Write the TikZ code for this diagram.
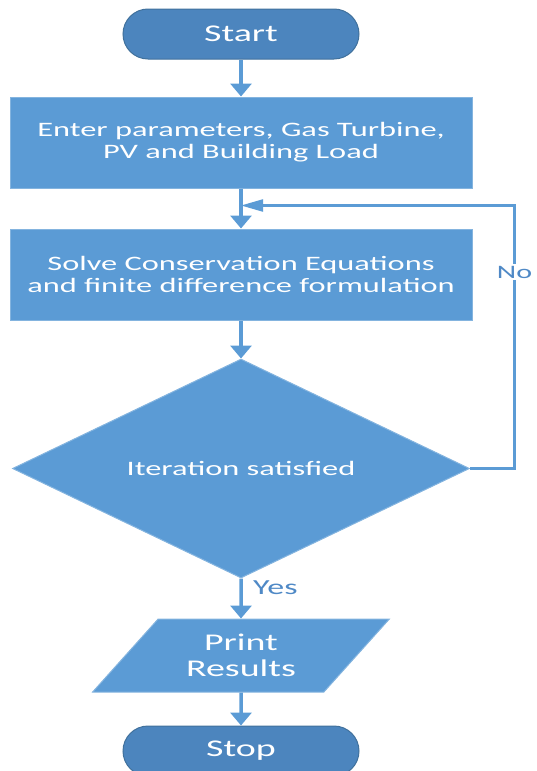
\documentclass[tikz,border=0pt]{standalone}
\usepackage{fontspec}
\setmainfont{Carlito}[FakeStretch=1.58]
\usetikzlibrary{shapes.geometric,positioning,arrows.meta}
\definecolor{boxblue}{HTML}{5B9BD5}
\definecolor{termblue}{HTML}{4C85BE}
\definecolor{termedge}{HTML}{41719C}
\definecolor{lblblue}{HTML}{4F89C6}

\begin{document}
\begin{tikzpicture}[x=1pt,y=1pt]
    \useasboundingbox (0,0) rectangle (536,-771);
    \begin{scope}[font=\fontsize{20.5}{22}\selectfont, text=white,
        terminal/.style={rectangle, rounded corners=25pt, minimum width=236pt, minimum height=50pt, fill=termblue, draw=termedge, line width=1pt, font=\fontsize{24}{26}\selectfont},
        process/.style={rectangle, minimum width=462pt, minimum height=91pt, fill=boxblue, draw=boxblue!75!white, line width=1pt, align=center},
        decision/.style={diamond, aspect=2.1, minimum width=457pt, minimum height=219pt, inner sep=0pt, fill=boxblue, draw=boxblue!75!white, line width=1pt},
        io/.style={trapezium, trapezium left angle=47, trapezium right angle=133, trapezium stretches=true, minimum width=297pt, minimum height=73pt, fill=boxblue, draw=boxblue!75!white, line width=1pt, align=center, font=\fontsize{24}{26}\selectfont},
        flow/.style={<-, >={Triangle[width=21pt,length=13pt]}, draw=boxblue, line width=3.5pt},
        loopline/.style={->, >={Triangle[width=12pt,length=22pt]}, draw=boxblue, line width=2.2pt},
        mylabel/.style={text=lblblue, inner sep=2pt}]
    \node [terminal] (start) at (241,-34) {Start};
    \node [process, below=37pt of start] (enter) {Enter parameters, Gas Turbine,\\PV and Building Load} edge [flow] (start);
    \coordinate [below=17pt of enter] (join);
    \node [process, below=40pt of enter] (solve) {Solve Conservation Equations\\and finite difference formulation} edge [flow] (enter);
    \node [decision, below=38pt of solve] (test) {Iteration satisfied} edge [flow] (solve);
    \node [io, below=40pt of test] (print) {Print\\Results} edge [flow] (test);
    \node [terminal, below=33pt of print] (stop) {Stop} edge [flow] (print);
    % loop back
    \coordinate [right=44.5pt of test.east] (turn);
    \draw [loopline] (test.east) -- (turn) |- (join);
    \node [mylabel, fill=white, font=\fontsize{19}{21}\selectfont] (no) at (turn |- 0,-272) {No};
    \node [mylabel, anchor=north west, font=\fontsize{21.5}{23}\selectfont] (yes) at ([xshift=10pt]test.south) {Yes};
    \end{scope}
\end{tikzpicture}
\end{document}
